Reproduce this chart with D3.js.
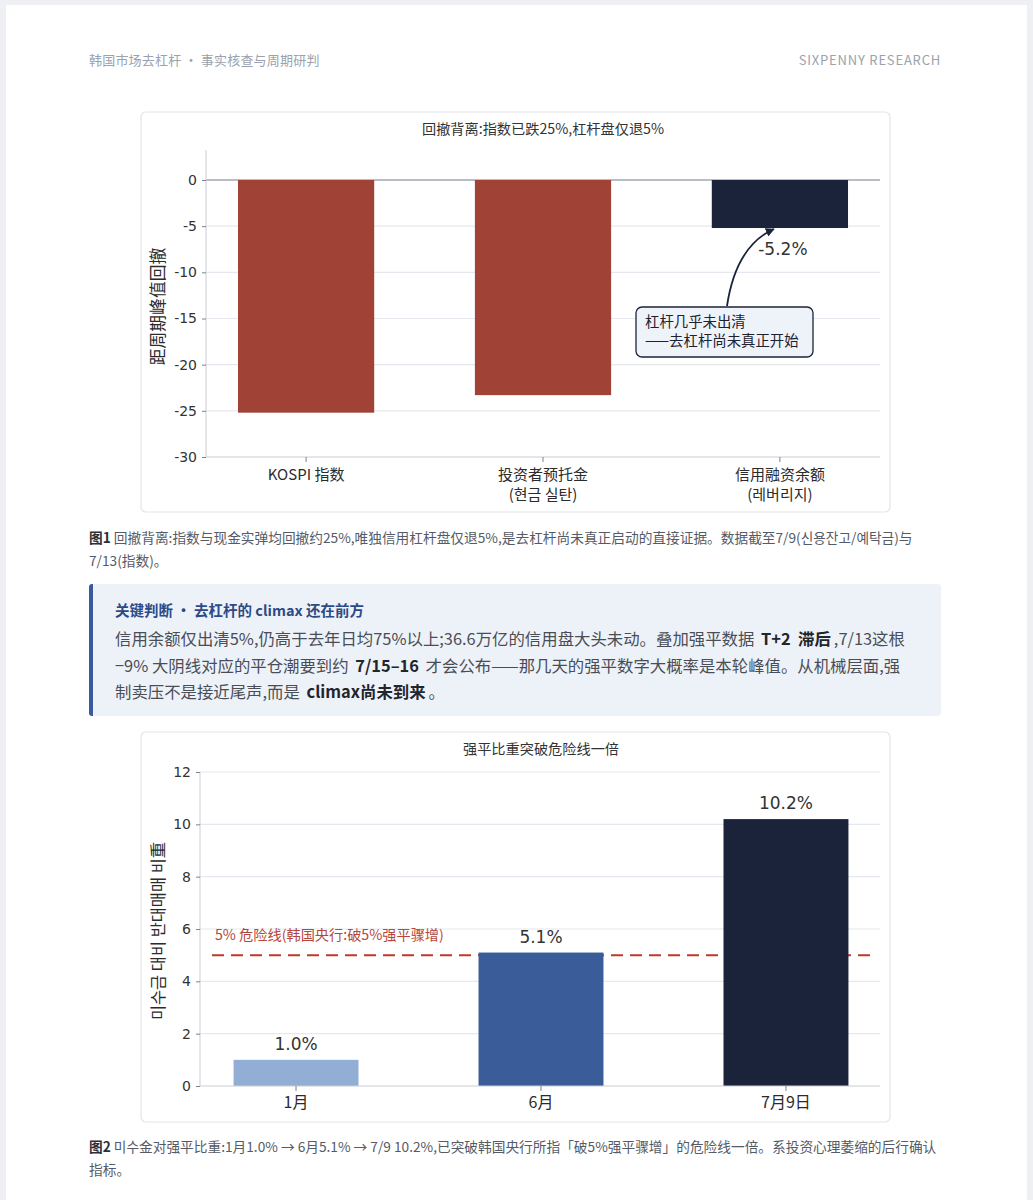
<!DOCTYPE html>
<html><head><meta charset="utf-8">
<script src="https://cdn.jsdelivr.net/npm/d3@7"></script>
<style>
html,body{margin:0;padding:0;background:#eef0f3;}
#page{position:absolute;left:6px;top:5px;width:1021px;height:1195px;background:#fff;}
.abs{position:absolute;white-space:nowrap;font-family:"Noto Sans CJK SC","Noto Sans",sans-serif;}
svg{position:absolute;left:0;top:0;}
</style></head>
<body>
<div id="page"></div>
<div id="root" style="position:absolute;left:0;top:0;width:1033px;height:1200px;"></div>
<script>
// ---------- data ----------
const hdrLeft = "韩国市场去杠杆 · 事实核查与周期研判";
const hdrRight = "SIXPENNY RESEARCH";

const c1Title = "回撤背离:指数已跌25%,杠杆盘仅退5%";
const c1Cats = [["KOSPI 指数"], ["投资者预托金", "(현금 실탄)"], ["信用融资余额", "(레버리지)"]];
const c1Values = [-25.2, -23.3, -5.2];
const c1Colors = ["#a04235", "#a04235", "#1b233b"];
const c1Ticks = [0, -5, -10, -15, -20, -25, -30];
const c1YLabel = "距周期峰值回撤";
const c1Note = ["杠杆几乎未出清", "——去杠杆尚未真正开始"];

const cap1 = ["回撤背离:指数与现金实弹均回撤约25%,唯独信用杠杆盘仅退5%,是去杠杆尚未真正启动的直接证据。数据截至7/9(신용잔고/예탁금)与", "7/13(指数)。"];

const calloutTitle = "关键判断 · 去杠杆的 climax 还在前方";

const c2Title = "强平比重突破危险线一倍";
const c2Cats = ["1月", "6月", "7月9日"];
const c2Values = [1.0, 5.1, 10.2];
const c2Colors = ["#93aed4", "#3a5c99", "#1b233b"];
const c2Ticks = [0, 2, 4, 6, 8, 10, 12];
const c2YLabel = "미수금 대비 반대매매 비重";
const c2Danger = 5;
const c2DangerLabel = "5% 危险线(韩国央行:破5%强平骤增)";

const cap2 = ["미수金对强平比重:1月1.0% → 6月5.1% → 7/9 10.2%,已突破韩国央行所指「破5%强平骤增」的危险线一倍。系投资心理萎缩的后行确认", "指标。"];

// ---------- html text ----------
const root = d3.select("#root");
root.append("div").attr("class","abs").style("left","89px").style("top","50px")
  .style("font-size","13px").style("color","#9aa2ae").style("letter-spacing","0.2px").text(hdrLeft);
root.append("div").attr("class","abs").style("right","92px").style("top","50px")
  .style("font-size","13px").style("color","#9aa2ae").style("letter-spacing","0.8px").text(hdrRight);

function caption(top, label, lines){
  const d = root.append("div").attr("class","abs").style("left","89px").style("top", top+"px")
    .style("font-size","13.7px").style("color","#555b66").style("line-height","22.5px");
  lines.forEach((l,i)=>{
    const row = d.append("div");
    if(i===0){ row.append("b").style("color","#2b2f38").text(label); row.append("span").text(" "+l); }
    else row.text(l);
  });
}
caption(526, "图1", cap1);
caption(1135, "图2", cap2);

// callout
const co = root.append("div").attr("class","abs")
  .style("left","89px").style("top","584px").style("width","848px").style("height","132px")
  .style("background","#edf2f9").style("border-left","4px solid #3a5a9b").style("border-radius","3px");
co.append("div").style("position","absolute").style("left","22px").style("top","15px")
  .style("font-size","14.5px").style("font-weight","700").style("color","#2d4a86").text(calloutTitle);
const body = co.append("div").style("position","absolute").style("left","22px").style("top","41px")
  .style("font-size","16.4px").style("color","#4a4d55").style("line-height","26.5px");
const bodyLines = [
  [["信用余额仅出清5%,仍高于去年日均75%以上;36.6万亿的信用盘大头未动。叠加强平数据 ",0],["T+2  滞后",1],[",7/13这根",0]],
  [["−9% 大阴线对应的平仓潮要到约 ",0],["7/15–16",1],[" 才会公布——那几天的强平数字大概率是本轮峰值。从机械层面,强",0]],
  [["制卖压不是接近尾声,而是 ",0],["climax尚未到来",1],["。",0]]
];
bodyLines.forEach(line=>{
  const row = body.append("div");
  line.forEach(([t,b])=>{
    const s = row.append("span").text(t).style("white-space","pre");
    if(b) s.style("font-weight","700").style("color","#22252c").style("padding","0 3px");
  });
});

// ---------- svg charts ----------
const svg = root.append("svg").attr("width",1033).attr("height",1200).style("pointer-events","none");
const numFont = "DejaVu Sans, Noto Sans CJK SC, sans-serif";
const cjkFont = "Noto Sans CJK SC, sans-serif";

svg.append("defs").append("marker").attr("id","arr").attr("viewBox","0 0 10 10")
  .attr("refX",9).attr("refY",5).attr("markerWidth",9).attr("markerHeight",9)
  .attr("markerUnits","userSpaceOnUse").attr("orient","auto")
  .append("path").attr("d","M0,0 L10,5 L0,10 z").attr("fill","#1b233b");

function card(x,y,w,h){
  svg.append("rect").attr("x",x).attr("y",y).attr("width",w).attr("height",h).attr("rx",5)
    .attr("fill","#fff").attr("stroke","#e2e5ea").attr("stroke-width",1.2);
}

// ===== chart 1 =====
card(141,112,749,400);
{
  const L=206,R=880,T=150,B=457;
  const x = d3.scaleBand().domain(d3.range(c1Values.length)).range([L,R]).paddingInner(0.425).paddingOuter(0.135);
  const y = d3.scaleLinear().domain([-30,3.25]).range([B,T]);
  const g = svg.append("g");
  g.selectAll(".grid").data(c1Ticks.filter(t=>t!==0 && t!==-30)).join("line")
    .attr("x1",L).attr("x2",R).attr("y1",d=>y(d)).attr("y2",d=>y(d)).attr("stroke","#e6e8ef").attr("stroke-width",1.2);
  g.append("line").attr("x1",L).attr("x2",R).attr("y1",y(0)).attr("y2",y(0)).attr("stroke","#b9bdc6").attr("stroke-width",2);
  g.selectAll(".bar").data(c1Values).join("rect")
    .attr("x",(d,i)=>x(i)).attr("width",x.bandwidth())
    .attr("y",d=>y(Math.max(0,d))).attr("height",d=>Math.abs(y(d)-y(0)))
    .attr("fill",(d,i)=>c1Colors[i]);
  // axes
  const ya = g.append("g").attr("transform",`translate(${L},0)`)
    .call(d3.axisLeft(y).tickValues(c1Ticks).tickSize(4).tickPadding(5).tickFormat(d3.format("d")));
  ya.select(".domain").attr("d",`M0,${T}V${B}`).attr("stroke","#c9cdd6");
  ya.selectAll(".tick line").attr("stroke","#7d828c");
  ya.selectAll("text").attr("font-family",numFont).attr("font-size",14).attr("fill","#333").text(d=>String(d));
  const xa = g.append("g").attr("transform",`translate(0,${B})`)
    .call(d3.axisBottom(x).tickSize(5).tickFormat(""));
  xa.select(".domain").attr("d",`M${L},0H${R}`).attr("stroke","#c9cdd6");
  xa.selectAll(".tick line").attr("stroke","#7d828c");
  c1Cats.forEach((lines,i)=>{
    lines.forEach((t,j)=>{
      g.append("text").attr("x",x(i)+x.bandwidth()/2).attr("y",B+23+j*19.5).attr("text-anchor","middle")
        .attr("font-family",cjkFont).attr("font-size",15).attr("fill","#2b2b2b").text(t);
    });
  });
  g.append("text").attr("transform",`translate(164,${(T+B)/2+3}) rotate(-90)`).attr("text-anchor","middle")
    .attr("font-family",cjkFont).attr("font-size",16.8).attr("fill","#2b2b2b").text(c1YLabel);
  g.append("text").attr("x",(L+R)/2).attr("y",134).attr("text-anchor","middle")
    .attr("font-family",cjkFont).attr("font-size",14.2).attr("fill","#333").text(c1Title);
  // value label for the credit bar
  const ci = 2, cx = x(ci)+x.bandwidth()/2, cy = y(c1Values[ci]);
  g.append("text").attr("x",cx+3).attr("y",cy+27).attr("text-anchor","middle")
    .attr("font-family",numFont).attr("font-size",17).attr("fill","#333").text(c1Values[ci].toFixed(1)+"%");
  // annotation box
  const bx=636, by=307, bw=177, bh=50;
  g.append("path").attr("d",`M${bx+91},${by-1} Q${bx+100},${cy+18} ${cx-6},${cy+1}`)
    .attr("fill","none").attr("stroke","#1b233b").attr("stroke-width",1.8).attr("marker-end","url(#arr)");
  g.append("rect").attr("x",bx).attr("y",by).attr("width",bw).attr("height",bh).attr("rx",6)
    .attr("fill","#eef2f9").attr("stroke","#1b233b").attr("stroke-width",1.3);
  const note = g.append("text").attr("font-family",cjkFont).attr("font-size",14.4).attr("fill","#1d2130");
  c1Note.forEach((t,j)=>{
    note.append("tspan").attr("x",bx+9).attr("y",by+20+j*19).text(t);
  });
}

// ===== chart 2 =====
card(141,732,749,390);
{
  const L=200,R=882,T=772,B=1086;
  const x = d3.scaleBand().domain(c2Cats).range([L,R]).paddingInner(0.49).paddingOuter(0.137);
  const y = d3.scaleLinear().domain([0,12]).range([B,T]);
  const g = svg.append("g");
  g.selectAll(".grid").data(c2Ticks.filter(t=>t!==0)).join("line")
    .attr("x1",L).attr("x2",R-2).attr("y1",d=>y(d)).attr("y2",d=>y(d)).attr("stroke","#e6e8ef").attr("stroke-width",1.2);
  g.append("line").attr("x1",L+12).attr("x2",R-6).attr("y1",y(c2Danger)).attr("y2",y(c2Danger))
    .attr("stroke","#c0392b").attr("stroke-width",2).attr("stroke-dasharray","12,7");
  g.selectAll(".bar").data(c2Values).join("rect")
    .attr("x",(d,i)=>x(c2Cats[i])).attr("width",x.bandwidth())
    .attr("y",d=>y(d)).attr("height",d=>y(0)-y(d)).attr("fill",(d,i)=>c2Colors[i]);
  g.selectAll(".vl").data(c2Values).join("text")
    .attr("x",(d,i)=>x(c2Cats[i])+x.bandwidth()/2).attr("y",d=>y(d)-10).attr("text-anchor","middle")
    .attr("font-family",numFont).attr("font-size",17).attr("fill","#333").text(d=>d.toFixed(1)+"%");
  g.append("text").attr("x",L+15).attr("y",y(c2Danger)-15).attr("font-family",cjkFont).attr("font-size",14.2)
    .attr("fill","#b5473a").text(c2DangerLabel);
  const ya = g.append("g").attr("transform",`translate(${L},0)`)
    .call(d3.axisLeft(y).tickValues(c2Ticks).tickSize(4).tickPadding(5));
  ya.select(".domain").attr("d",`M0,${T}V${B}`).attr("stroke","#c9cdd6");
  ya.selectAll(".tick line").attr("stroke","#7d828c");
  ya.selectAll("text").attr("font-family",numFont).attr("font-size",14).attr("fill","#333");
  const xa = g.append("g").attr("transform",`translate(0,${B})`)
    .call(d3.axisBottom(x).tickSize(5).tickPadding(6));
  xa.select(".domain").attr("d",`M${L},0H${R-2}`).attr("stroke","#c9cdd6");
  xa.selectAll(".tick line").attr("stroke","#7d828c");
  xa.selectAll("text").attr("font-family",cjkFont).attr("font-size",16).attr("fill","#2b2b2b");
  g.append("text").attr("transform",`translate(164,${(T+B)/2+2}) rotate(-90)`).attr("text-anchor","middle")
    .attr("font-family",cjkFont).attr("font-size",16.4).attr("fill","#2b2b2b").text(c2YLabel);
  g.append("text").attr("x",(L+R)/2).attr("y",754).attr("text-anchor","middle")
    .attr("font-family",cjkFont).attr("font-size",14.2).attr("fill","#333").text(c2Title);
}
</script>
</body></html>
